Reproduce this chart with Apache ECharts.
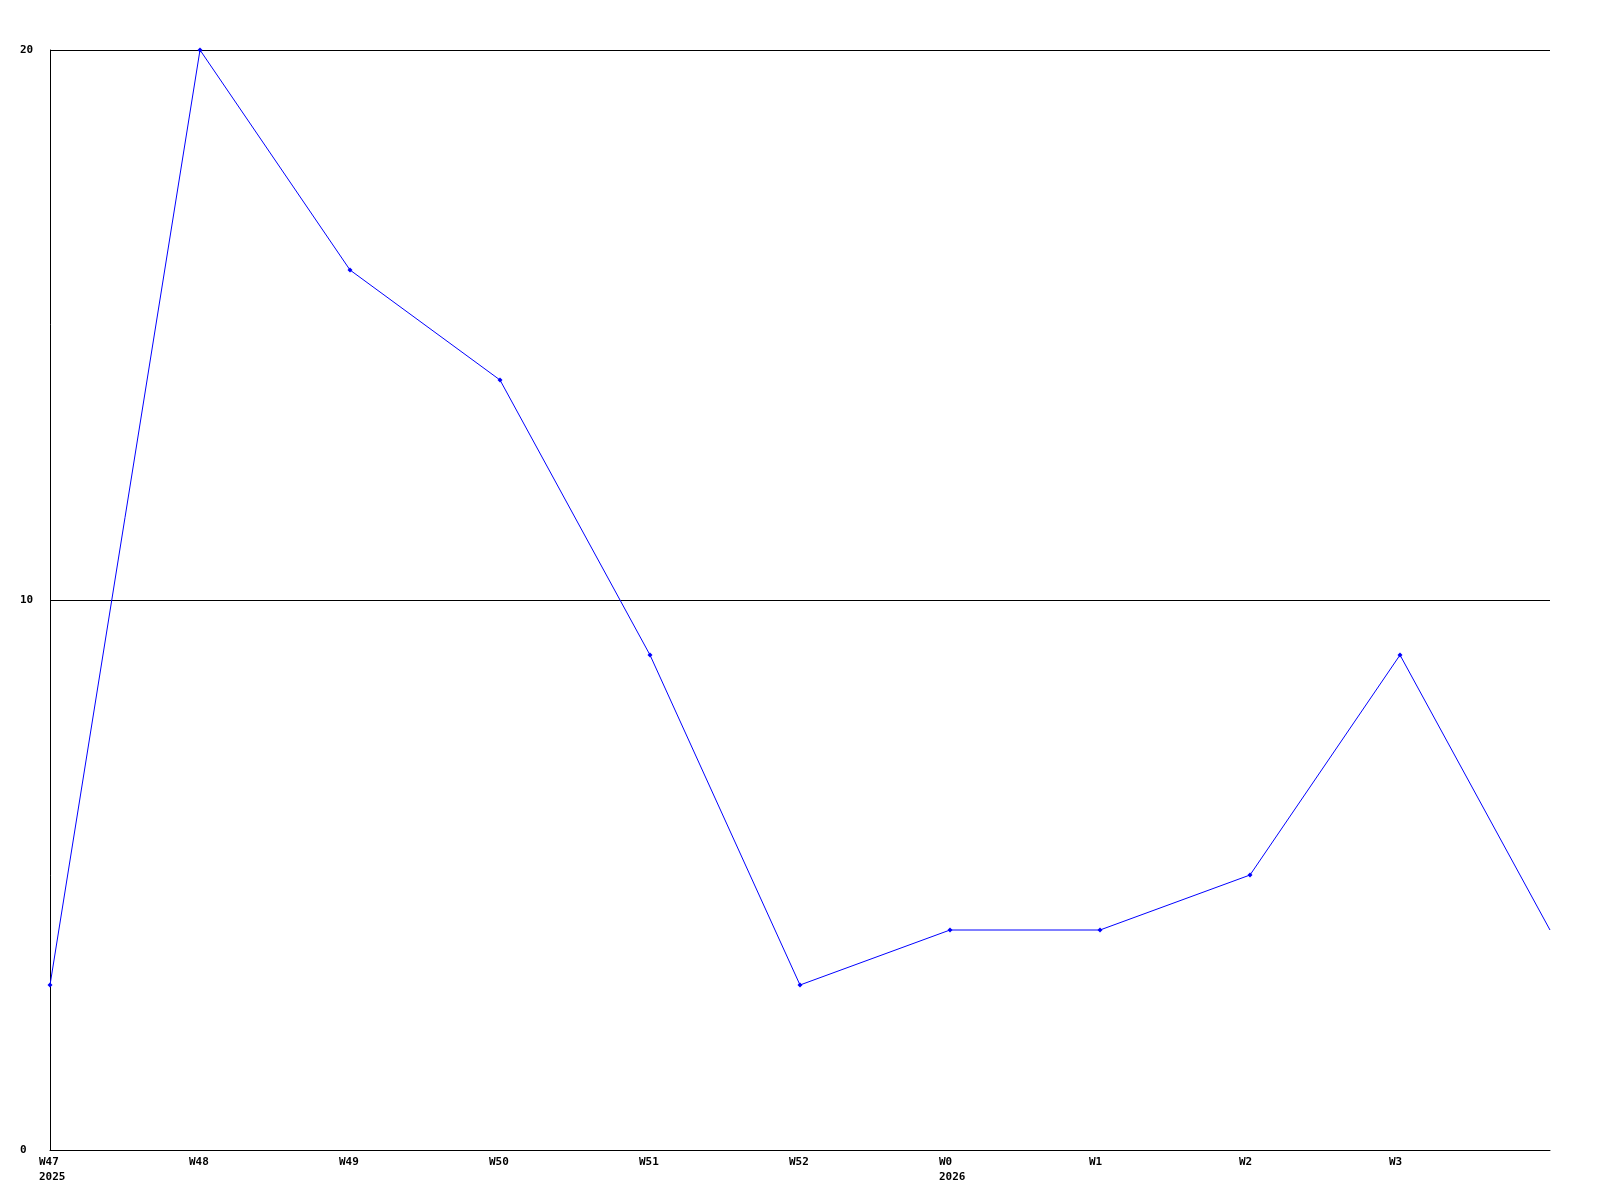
<!DOCTYPE html>
<html>
<head>
<meta charset="utf-8">
<script src="https://cdn.jsdelivr.net/npm/echarts@6/dist/echarts.min.js"></script>
<style>
html,body{margin:0;padding:0;background:#fff;}
#c{width:1600px;height:1200px;}
</style>
</head>
<body>
<div id="c"></div>
<script>
var categories = ['W47','W48','W49','W50','W51','W52','W0','W1','W2','W3','W4'];
var tickLabels = ['W47','W48','W49','W50','W51','W52','W0','W1','W2','W3',''];
var yearLabels = ['2025','','','','','','2026','','','',''];
var values = [3,20,16,14,9,3,4,4,5,9,4];
var yTicks = [0,10,20];

var chart = echarts.init(document.getElementById('c'), null, {renderer:'canvas'});
var font = '"DejaVu Sans Mono", monospace';
var seriesData = values.map(function(v,i){
  return i === values.length-1 ? {value:v, symbol:'none'} : v;
});
chart.setOption({
  backgroundColor:'#ffffff',
  animation:false,
  grid:{left:50, top:50, width:1500, height:1100, containLabel:false},
  xAxis:{
    type:'category',
    data:categories,
    boundaryGap:false,
    axisLine:{show:true, lineStyle:{color:'#000', width:1}},
    axisTick:{show:false},
    splitLine:{show:false},
    axisLabel:{
      show:true,
      interval:0,
      margin:5,
      align:'center',
      formatter:function(v,i){
        var s='{a|'+tickLabels[i]+'}';
        if(yearLabels[i]) s+='\n{a|'+yearLabels[i]+'}';
        return s;
      },
      rich:{a:{width:22, align:'left', fontFamily:font, fontWeight:'bold', fontSize:11, color:'#000', lineHeight:15}}
    }
  },
  yAxis:{
    type:'value',
    min:yTicks[0], max:yTicks[yTicks.length-1], interval:10,
    axisLine:{show:true, lineStyle:{color:'#000', width:1}},
    axisTick:{show:false},
    splitLine:{show:true, lineStyle:{color:'#000', width:1}},
    axisLabel:{align:'left', margin:30, fontFamily:font, fontWeight:'bold', fontSize:11, color:'#000'}
  },
  series:[{
    type:'line',
    data:seriesData,
    lineStyle:{color:'#0000ff', width:1},
    itemStyle:{color:'#0000ff'},
    symbol:'diamond',
    symbolSize:5,
    showAllSymbol:true
  }]
});
</script>
</body>
</html>
